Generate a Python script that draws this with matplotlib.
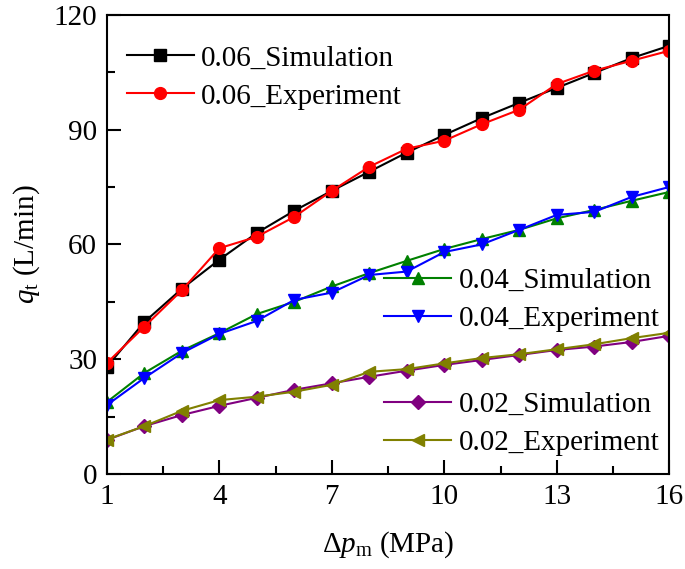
import matplotlib
matplotlib.use("Agg")
import matplotlib.pyplot as plt
from matplotlib.ticker import MultipleLocator, FixedLocator

plt.rcParams["font.family"] = ["Liberation Serif", "DejaVu Serif"]
plt.rcParams["mathtext.fontset"] = "custom"
plt.rcParams["mathtext.rm"] = "Liberation Serif"
plt.rcParams["mathtext.it"] = "Liberation Serif:italic"

# ── data ────────────────────────────────────────────────────────────────────
dp = list(range(1, 17))
sim_06 = [28.0, 39.7, 48.4, 56.0, 63.0, 68.8, 74.0, 79.0, 84.0, 88.6, 93.0, 97.0, 100.9, 104.8, 108.7, 111.9]
exp_06 = [29.0, 38.5, 48.0, 59.0, 62.0, 67.2, 74.0, 80.3, 85.0, 87.1, 91.4, 95.2, 101.9, 105.4, 108.0, 110.6]
sim_04 = [18.8, 26.4, 32.2, 36.8, 41.8, 45.0, 49.0, 52.5, 55.7, 58.8, 61.4, 63.8, 66.8, 69.0, 71.4, 73.7]
exp_04 = [18.0, 25.1, 31.6, 36.6, 40.0, 45.5, 47.4, 52.0, 52.9, 58.0, 60.0, 63.8, 67.7, 68.5, 72.4, 75.0]
sim_02 = [8.9, 12.5, 15.4, 17.8, 19.9, 22.0, 23.7, 25.4, 27.0, 28.5, 29.8, 31.1, 32.4, 33.3, 34.5, 36.1]
exp_02 = [9.0, 12.5, 16.5, 19.3, 20.2, 21.5, 23.3, 26.7, 27.4, 28.9, 30.3, 31.3, 32.6, 33.9, 35.5, 36.9]
x_major = [1, 4, 7, 10, 13, 16]
x_minor = [2.5, 5.5, 8.5, 11.5, 14.5]

FS = 21
fig = plt.figure(figsize=(6.85, 5.69), dpi=100)
ax = fig.add_axes([0.156, 0.167, 0.821, 0.807])

kw = dict(linewidth=1.5, markersize=8.5)
l1, = ax.plot(dp, sim_06, color="black", marker="s", label="0.06_Simulation", **kw)
l2, = ax.plot(dp, exp_06, color="red", marker="o", label="0.06_Experiment", **kw)
l3, = ax.plot(dp, sim_04, color="green", marker="^", label="0.04_Simulation", **kw)
l4, = ax.plot(dp, exp_04, color="blue", marker="v", label="0.04_Experiment", **kw)
l5, = ax.plot(dp, sim_02, color="purple", marker="D", label="0.02_Simulation", linewidth=1.5, markersize=7)
l6, = ax.plot(dp, exp_02, color="olive", marker="<", label="0.02_Experiment", **kw)

ax.set_xlim(1, 16)
ax.set_ylim(0, 120)
ax.xaxis.set_major_locator(FixedLocator(x_major))
ax.xaxis.set_minor_locator(FixedLocator(x_minor))
ax.yaxis.set_major_locator(MultipleLocator(30))
ax.yaxis.set_minor_locator(MultipleLocator(15))
ax.tick_params(which="both", direction="in", width=1.5, labelsize=FS, pad=7)
ax.tick_params(which="major", length=10)
ax.tick_params(which="minor", length=6)
for s in ax.spines.values():
    s.set_linewidth(1.5)

ax.set_xlabel(r"$\Delta p_{\mathrm{m}}$ (MPa)", fontsize=FS, labelpad=14)
ax.set_ylabel(r"$q_{\mathrm{t}}$ (L/min)", fontsize=FS, labelpad=8)

lkw = dict(frameon=False, fontsize=FS, handlelength=2.3, handletextpad=0.25,
           labelspacing=0.4, borderpad=0, borderaxespad=0, loc="upper left")
leg1 = ax.legend(handles=[l1, l2], bbox_to_anchor=(0.035, 0.934), **lkw)
ax.add_artist(leg1)
leg2 = ax.legend(handles=[l3, l4], bbox_to_anchor=(0.493, 0.449), **lkw)
ax.add_artist(leg2)
ax.legend(handles=[l5, l6], bbox_to_anchor=(0.493, 0.18), **lkw)

fig.savefig("out.png", dpi=100, facecolor="white")
